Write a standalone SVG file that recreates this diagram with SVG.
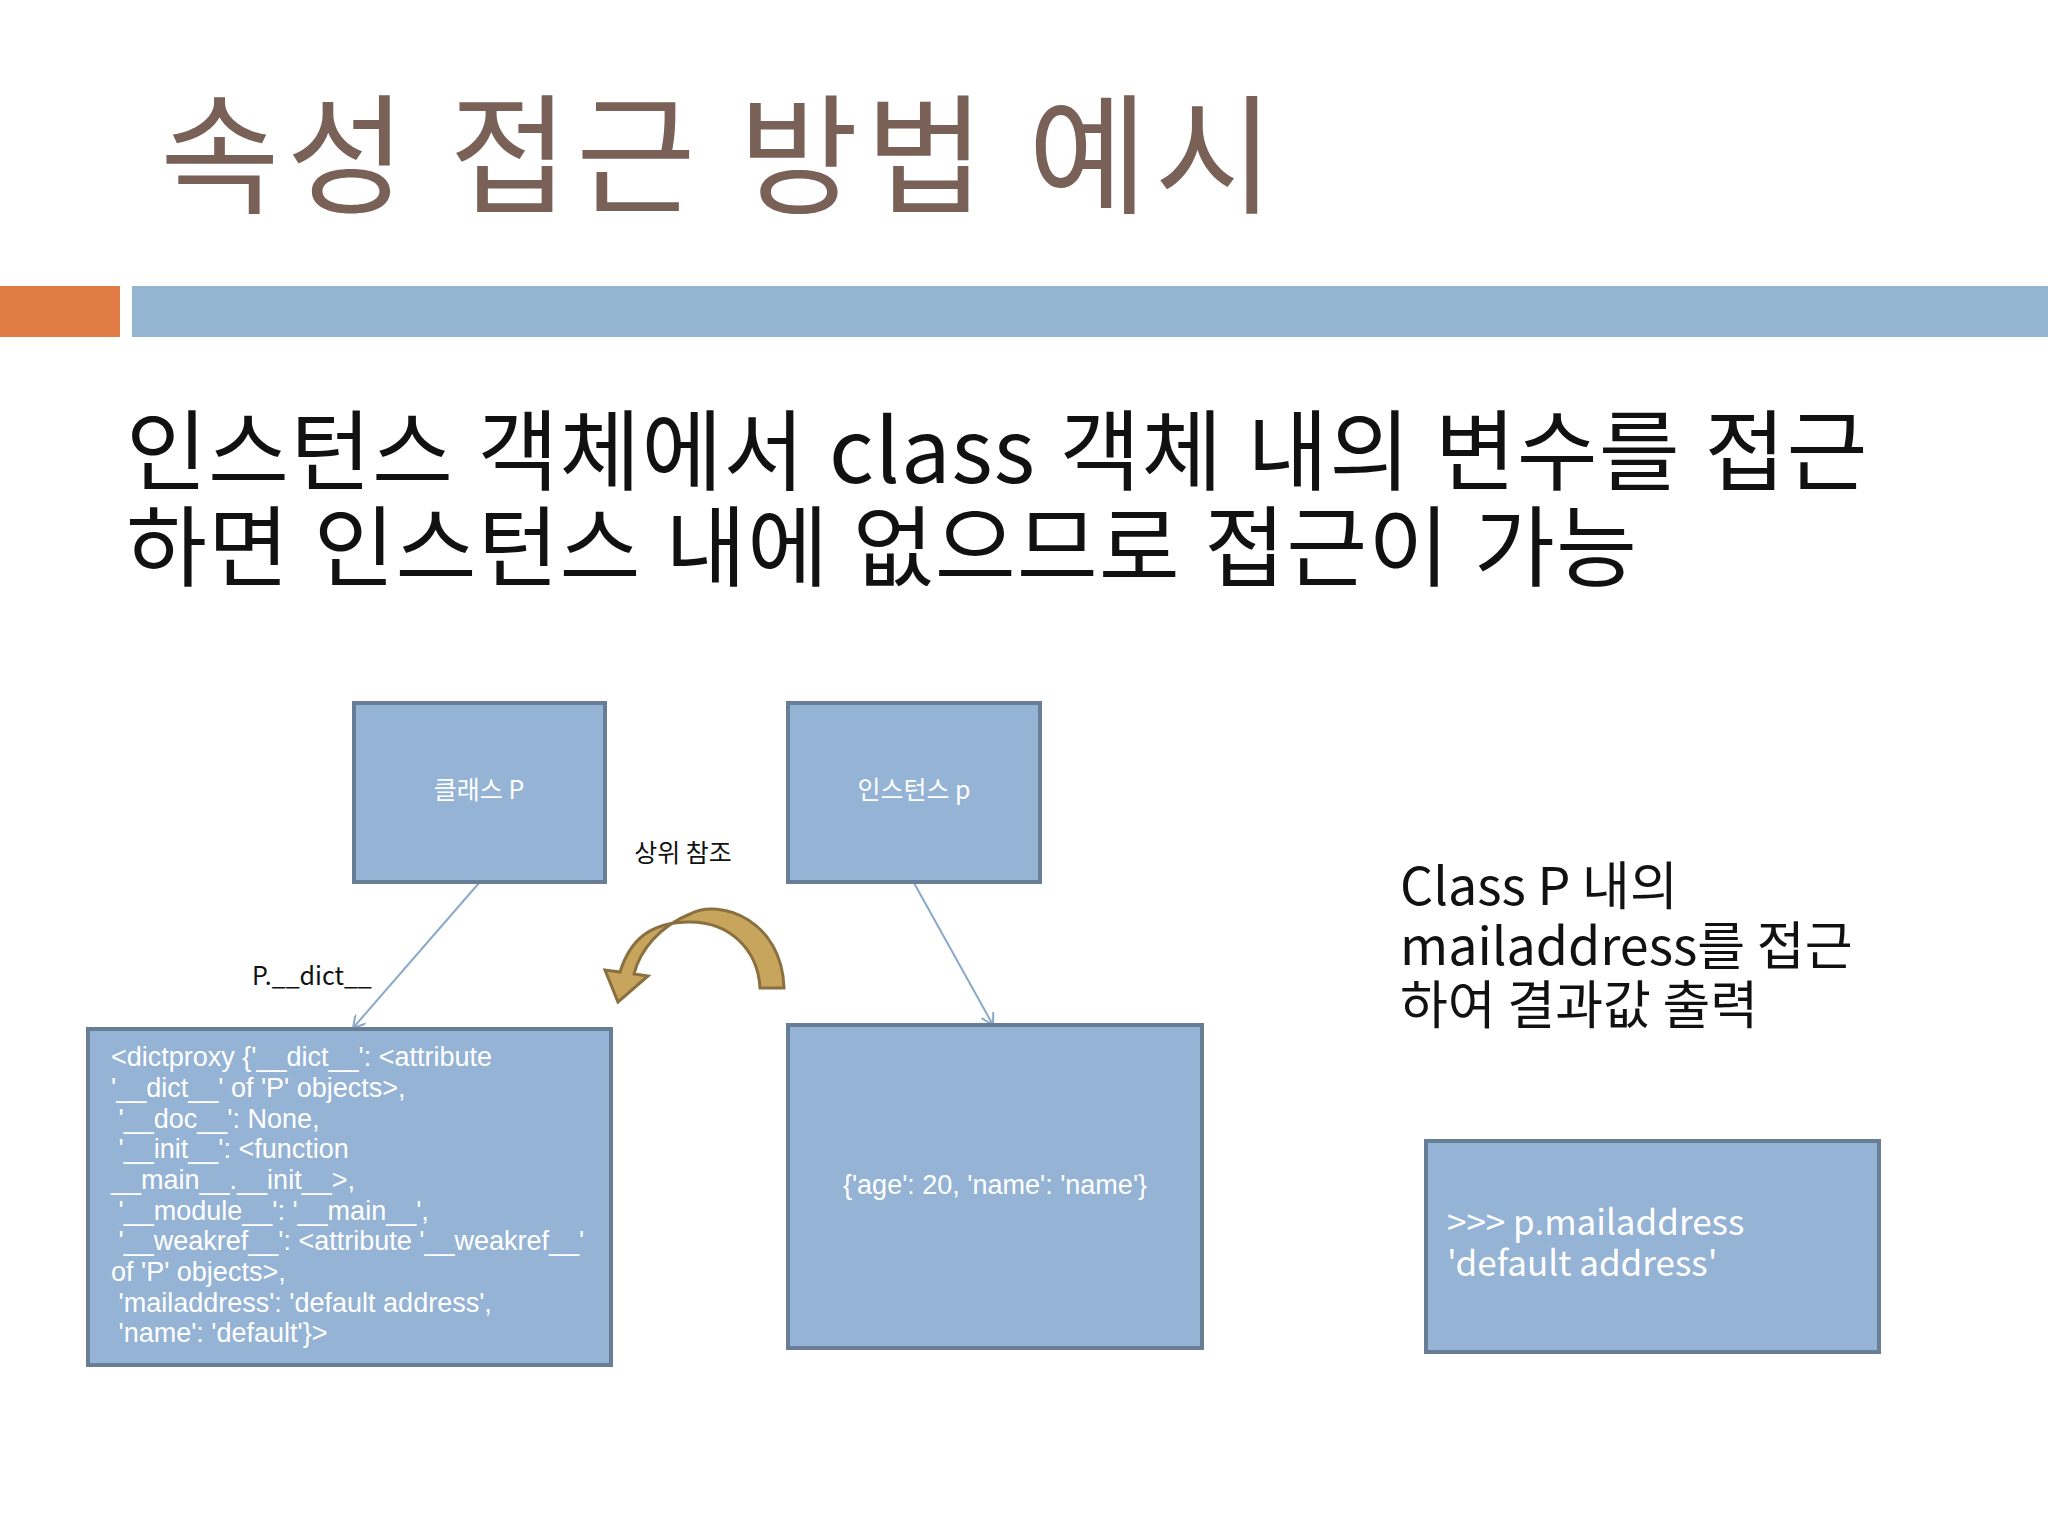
<svg xmlns="http://www.w3.org/2000/svg" width="2048" height="1536" viewBox="0 0 2048 1536">
<style>
.box{fill:#95b3d5;stroke:#687d96;stroke-width:4}
.wt{fill:#ffffff;font-family:"Liberation Sans Narrow","Liberation Sans","Noto Sans CJK KR",sans-serif}
.k{font-family:"Noto Sans CJK KR","Noto Sans",sans-serif}
.ln{stroke:#8aa9c8;stroke-width:2;fill:none}
</style>
<defs>
<marker id="ah" markerWidth="14" markerHeight="14" refX="12" refY="7" orient="auto" markerUnits="userSpaceOnUse">
<path d="M0,0 L12,7 L0,14" fill="none" stroke="#8aa9c8" stroke-width="2"/>
</marker>
</defs>
<rect width="2048" height="1536" fill="#ffffff"/>
<text x="160" y="203" class="k" font-size="130" fill="#7a6157" letter-spacing="7">속성 접근 방법 예시</text>
<rect x="0" y="286" width="120" height="51" fill="#df7d45"/>
<rect x="132" y="286" width="1916" height="51" fill="#94b5d2"/>
<text x="126" y="483" class="k" font-size="88" fill="#111" letter-spacing="1" word-spacing="3">인스턴스 객체에서 class 객체 내의 변수를 접근</text>
<text x="126" y="579" class="k" font-size="88" fill="#111" letter-spacing="1" word-spacing="3">하면 인스턴스 내에 없으므로 접근이 가능</text>

<g id="connectors">
<line class="ln" x1="479" y1="883" x2="353" y2="1028" marker-end="url(#ah)"/>
<line class="ln" x1="914" y1="883" x2="993" y2="1025" marker-end="url(#ah)"/>
<path d="M784,988 C782,920 720,898 690,914 C660,926 640,950 634,974 L648,976 L618,1002 L605,970 L620,972 C630,940 650,922 690,922 C730,922 758,950 760,988 Z" fill="#c8a55c" stroke="#8a7040" stroke-width="3"/>
<text x="683" y="862" class="k" font-size="25" fill="#111" text-anchor="middle">상위 참조</text>
<text x="252" y="985" class="k" font-size="25" fill="#111">P.__dict__</text>
</g>

<g id="classP"><rect class="box" x="354" y="703" width="251" height="179"/>
<text x="479" y="799" class="wt k" font-size="25" text-anchor="middle">클래스 P</text></g>
<g id="instp"><rect class="box" x="788" y="703" width="252" height="179"/>
<text x="914" y="799" class="wt k" font-size="25" text-anchor="middle">인스턴스 p</text></g>

<g id="classdict"><rect class="box" x="88" y="1029" width="523" height="336"/>
<text class="wt" font-size="27" xml:space="preserve"><tspan x="111" y="1066">&lt;dictproxy {'__dict__': &lt;attribute</tspan><tspan x="111" y="1097">'__dict__' of 'P' objects&gt;,</tspan><tspan x="111" y="1128"> '__doc__': None,</tspan><tspan x="111" y="1158"> '__init__': &lt;function</tspan><tspan x="111" y="1189">__main__.__init__&gt;,</tspan><tspan x="111" y="1220"> '__module__': '__main__',</tspan><tspan x="111" y="1250"> '__weakref__': &lt;attribute '__weakref__'</tspan><tspan x="111" y="1281">of 'P' objects&gt;,</tspan><tspan x="111" y="1312"> 'mailaddress': 'default address',</tspan><tspan x="111" y="1342"> 'name': 'default'}&gt;</tspan></text></g>

<g id="instdict"><rect class="box" x="788" y="1025" width="414" height="323"/>
<text x="995" y="1194" class="wt" font-size="27" text-anchor="middle">{'age': 20, 'name': 'name'}</text></g>

<text class="k" font-size="52" fill="#111"><tspan x="1400" y="905">Class P 내의</tspan><tspan x="1400" y="965">mailaddress를 접근</tspan><tspan x="1400" y="1024">하여 결과값 출력</tspan></text>

<g id="result"><rect class="box" x="1426" y="1141" width="453" height="211"/>
<text class="wt k" font-size="35"><tspan x="1447" y="1235">&gt;&gt;&gt; p.mailaddress</tspan><tspan x="1447" y="1276">'default address'</tspan></text></g>
</svg>
